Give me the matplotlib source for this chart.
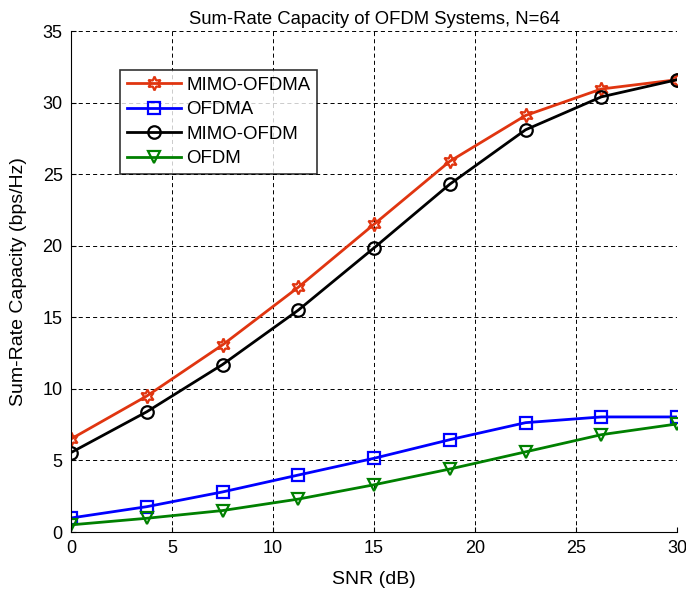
import matplotlib.pyplot as plt

plt.rcParams['font.family'] = ['Liberation Sans', 'DejaVu Sans']

# SNR points (dB)
snr = [0, 3.75, 7.5, 11.25, 15, 18.75, 22.5, 26.25, 30]

# capacities (bps/Hz)
mimo_ofdma = [6.5, 9.5, 13.07, 17.1, 21.5, 25.9, 29.1, 30.95, 31.6]
ofdma = [0.98, 1.77, 2.8, 3.98, 5.15, 6.45, 7.64, 8.04, 8.04]
mimo_ofdm = [5.55, 8.4, 11.7, 15.5, 19.85, 24.3, 28.1, 30.4, 31.6]
ofdm = [0.5, 0.96, 1.5, 2.3, 3.3, 4.4, 5.6, 6.8, 7.55]

fig = plt.figure(figsize=(6.86, 5.91), dpi=100)
ax = fig.add_axes([0.1035, 0.0998, 0.8835, 0.8477])

ax.plot(snr, mimo_ofdma, color='#e03510', lw=2, marker=(6, 1, 0), ms=10,
        mfc='none', mew=1.6, label='MIMO-OFDMA')
ax.plot(snr, ofdma, color='#0000ff', lw=2, marker='s', ms=8.5,
        mfc='none', mew=1.6, label='OFDMA')
ax.plot(snr, mimo_ofdm, color='black', lw=2, marker='o', ms=9,
        mfc='none', mew=1.6, label='MIMO-OFDM')
ax.plot(snr, ofdm, color='#008000', lw=2, marker='v', ms=9,
        mfc='none', mew=1.6, label='OFDM')

ax.set_xlim(0, 30)
ax.set_ylim(0, 35)
ax.set_xticks(range(0, 31, 5))
ax.set_yticks(range(0, 36, 5))
ax.grid(True, color='black', linestyle=(0, (4.2, 3.2)), linewidth=0.7)
ax.spines['top'].set_visible(False)
ax.spines['right'].set_visible(False)
ax.tick_params(direction='in', labelsize=13, pad=6, top=False, right=False)

ax.set_xlabel('SNR (dB)', fontsize=14, labelpad=10)
ax.set_ylabel('Sum-Rate Capacity (bps/Hz)', fontsize=14, labelpad=11)
ax.set_title('Sum-Rate Capacity of OFDM Systems, N=64', fontsize=13.3, pad=5)

leg = ax.legend(loc='upper left', bbox_to_anchor=(0.081, 0.922), fontsize=13.4,
                frameon=True, fancybox=False, edgecolor='black',
                borderaxespad=0, handlelength=2.9, handletextpad=0.3,
                borderpad=0.35, labelspacing=0.4)
leg.get_frame().set_linewidth(1.2)

fig.savefig('out.png', dpi=100)
